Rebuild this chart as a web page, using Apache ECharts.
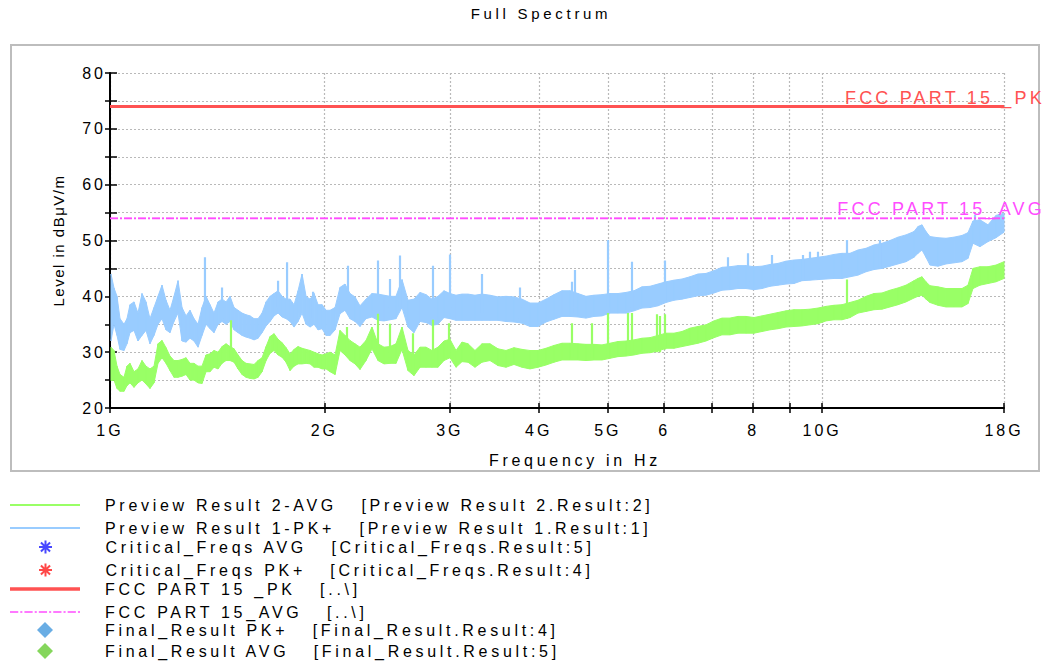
<!DOCTYPE html>
<html>
<head>
<meta charset="utf-8">
<script src="https://cdn.jsdelivr.net/npm/echarts@6/dist/echarts.min.js"></script>
<style>
  html, body { margin: 0; padding: 0; background: #ffffff; }
  #chart { width: 1046px; height: 663px; }
  /* wide report-style tracking; each text role uses its own family list */
  #chart text { letter-spacing: 3.7px; white-space: pre; }
  #chart text[style*="Helvetica"] { letter-spacing: 3px; }
  #chart text[style*="Arial"] { letter-spacing: 1.5px; }
  #chart text[style*="Arimo"] { letter-spacing: 3.2px; }
</style>
</head>
<body>
<div id="chart"></div>
<script>
// ---- measurement sweep, frequency in GHz ----
const freqGHz = [
  1.0032, 1.0130, 1.0229, 1.0329, 1.0463, 1.0565, 1.0668, 1.0807, 1.0947, 1.1090,
  1.1234, 1.1380, 1.1529, 1.1679, 1.1831, 1.1985, 1.2141, 1.2299, 1.2460, 1.2622,
  1.2786, 1.2953, 1.3121, 1.3292, 1.3465, 1.3641, 1.3818, 1.3998, 1.4181, 1.4365,
  1.4553, 1.4742, 1.4934, 1.5129, 1.5326, 1.5525, 1.5727, 1.5932, 1.6140, 1.6350,
  1.6563, 1.6778, 1.6997, 1.7218, 1.7442, 1.7669, 1.7899, 1.8132, 1.8368, 1.8607,
  1.8850, 1.9095, 1.9343, 1.9595, 1.9850, 2.0109, 2.0370, 2.0702,
  2.1037, 2.1378, 2.1725, 2.2080, 2.2440, 2.2880, 2.3327, 2.3785, 2.4252, 2.4726,
  2.5210, 2.5704, 2.6207, 2.6721, 2.7246, 2.7778, 2.8322, 2.8876, 2.9442, 3.0019,
  3.0609, 3.1206, 3.1818, 3.2546, 3.3292, 3.4161, 3.5058, 3.5976, 3.6919, 3.7888,
  3.8878, 3.9898, 4.0944, 4.2015,
  4.3120, 4.4247, 4.5406, 4.6595, 4.7817, 4.9071, 5.0356, 5.1675, 5.3029, 5.4423,
  5.5844, 5.7309, 5.8810, 6.0350, 6.1931, 6.3555, 6.5220, 6.6929, 6.8682, 7.0483,
  7.2329, 7.4223, 7.6169, 7.8165, 8.0212, 8.2314, 8.4472, 8.6681, 8.8955, 9.1285,
  9.3678, 9.6128, 9.8650, 10.124, 10.389, 10.661, 10.940, 11.227, 11.521, 11.823,
  12.134, 12.451, 12.777, 13.111, 13.455, 13.631, 13.807, 13.987, 14.169, 14.541,
  14.921, 15.314, 15.714, 16.022, 16.283, 16.656, 17.092, 17.540, 18.0
];

// Preview Result 1 (PK+): upper and lower edge of the trace, dBµV/m
const pkHigh = [
  44, 41.5, 40, 36, 35, 36, 38.5, 39, 37, 40.5,
  39, 36, 38, 40, 42, 39.3, 37.5, 40, 42.8, 38,
  36.5, 37.5, 36, 35, 38, 40, 38.5, 37, 39, 39.5,
  39, 40, 38, 37.5, 37, 36.7, 36.5, 36, 36, 37,
  39, 40, 40.5, 41, 40, 39.5, 39.5, 38.5, 41, 44,
  40, 39.5, 40.5, 38.5, 38.5, 37.5, 37.5, 38,
  41.6, 42.2, 40.5, 39.9, 38.3, 39.5, 40.5, 40.4, 40.2, 40,
  40, 43, 39.3, 39.5, 40.7, 40.3, 39.5, 40, 41, 40.5,
  40.2, 40.4, 40.4, 40.2, 40.4, 40.2, 39.9, 40, 39.9, 39.5,
  38.8, 38.8, 39.5, 40.3,
  41, 41, 40.5, 40, 40.2, 40.3, 40.5, 40.5, 40.7, 41,
  41.7, 41.8, 42.2, 42.6, 42.9, 43.1, 43.5, 44, 44.1, 44.6,
  45.2, 45.3, 45.5, 45.5, 45.3, 45.4, 45.7, 45.9, 46.3, 46.5,
  46.6, 46.8, 47, 47.2, 47.5, 47.7, 47.7, 48.3, 48.6, 49.2,
  49.5, 50, 50.6, 51, 51.6, 52.5, 52.8, 51.6, 50.7, 50.5,
  50.4, 50.6, 50.9, 51.4, 53.5, 53.7, 52.8, 54.5, 54.9
];
const pkLow = [
  32, 35, 33, 30.5, 30.3, 31.5, 33.5, 33.9, 32, 33,
  33.9, 31.5, 33, 35, 36, 34, 33.5, 35.5, 37, 32,
  31.8, 32.5, 32, 30.9, 33, 35, 34.2, 33.5, 35, 35.5,
  35, 35.5, 34, 33.5, 33, 32.7, 32.5, 32.2, 32.5, 33.5,
  34.7, 35.5, 36.5, 37, 36.3, 36, 35.5, 34.5, 35.5, 37,
  35, 34.5, 35, 34, 34.2, 33, 33, 34,
  36.9, 37.5, 36, 35.5, 34.6, 36, 36.3, 35.7, 35.6, 35.8,
  36, 38, 34.5, 33.5, 35.5, 35.3, 34.8, 35, 36.2, 36,
  35.7, 35.7, 35.7, 35.7, 35.7, 35.7, 35.7, 35.5, 35.4, 35.2,
  34.6, 34.6, 35.4, 35.9,
  36.4, 36.4, 36.3, 36.1, 36.4, 36.5, 37, 37, 37, 37.4,
  37.9, 38, 38.3, 38.9, 39.3, 39.5, 39.8, 40.1, 40.2, 40.6,
  41.1, 41.2, 41.4, 41.4, 41.2, 41.4, 41.8, 42, 42.2, 42.3,
  42.8, 42.9, 43, 43.1, 43.2, 43.2, 43.5, 43.8, 44.4, 44.8,
  45, 45.4, 45.8, 46.2, 47, 47.7, 48.3, 47, 45.6, 45.4,
  45.8, 46, 46.2, 46.8, 49.5, 48.9, 49.8, 50.5, 51.5
];

// Preview Result 2 (AVG): upper and lower edge of the trace, dBµV/m
const avgHigh = [
  30.9, 30.3, 27.5, 26, 25.5, 27.5, 28, 26.5, 27, 28.5,
  27.5, 27, 27.5, 31.5, 32.1, 30.8, 29.3, 28.5, 28.5, 28.7,
  29, 28, 28, 27.5, 27.5, 29.5, 29.7, 30.3, 30, 31,
  31.5, 31, 30.6, 29.5, 28.5, 28, 27.9, 27.8, 28.5, 29,
  31, 32.8, 33.3, 32.3, 31.7, 30.8, 29.7, 30.5, 31, 30.7,
  30.5, 30.3, 30, 29.7, 29.5, 29.7, 30, 29.5,
  33.9, 33, 32.1, 31.5, 30.9, 32.1, 34.5, 31.5, 30.9, 31,
  31.5, 34.5, 30.3, 29.5, 30.9, 30.9, 30.3, 30.9, 32, 32.3,
  30.3, 31.8, 31.5, 30.3, 31.5, 31.5, 30.6, 30.3, 30.8, 30.5,
  30.3, 30.3, 30.7, 31.2,
  31.6, 31.6, 31.5, 31.4, 31.4, 31.3, 31.6, 31.9, 32, 32.2,
  32.5, 32.6, 33, 33.4, 33.4, 33.7, 34.3, 34.6, 34.9, 35.6,
  36.1, 36.1, 36.4, 36.4, 36.2, 36.5, 36.8, 37.1, 37.4, 37.6,
  37.6, 37.7, 37.9, 38.2, 38.4, 38.5, 38.9, 39.3, 40, 40.5,
  40.6, 41.1, 41.5, 42, 42.8, 43.2, 43.5, 42.6, 41.9, 41.7,
  41.4, 41.4, 41.4, 42, 45, 45.3, 45.3, 45.6, 46.2
];
const avgLow = [
  24.9, 25, 23.5, 23, 23, 24, 24.5, 23.7, 24.5, 25,
  24.3, 23.5, 24.5, 28, 29, 28, 26.7, 25.5, 25.5, 25.7,
  26, 25, 25, 24.5, 24.4, 26.5, 26.5, 27.3, 27, 28,
  28.5, 28.5, 28.2, 27, 26, 25.5, 25.3, 25.2, 25.5, 26.5,
  28.5, 29.8, 30.3, 29.5, 29.1, 28.2, 26.7, 27.5, 27.9, 27.9,
  28, 27.9, 27.3, 27.3, 27, 27, 26.5, 26,
  30.3, 29.5, 28.5, 27.9, 26.9, 28.5, 30.6, 28.5, 27.9, 28,
  28, 30.5, 26.7, 25.8, 27.3, 27.3, 27.3, 27.3, 28.5, 29,
  27.3, 28.3, 28.2, 27.3, 28.2, 28.5, 27.6, 27.3, 27.8, 27.3,
  27, 27.3, 27.7, 28.2,
  28.6, 28.6, 28.6, 28.5, 28.6, 28.6, 28.9, 29.2, 29.3, 29.5,
  29.8, 29.9, 30.2, 30.7, 30.7, 31, 31.3, 31.6, 32, 32.6,
  33.1, 33.1, 33.4, 33.4, 33.4, 33.7, 34, 34.2, 34.5, 34.6,
  34.7, 34.9, 35.1, 35.6, 35.8, 35.8, 36.2, 37, 37.3, 37.6,
  37.7, 38.1, 38.5, 39, 39.7, 40, 40.2, 39.5, 38.9, 38.4,
  38.1, 38.1, 38.1, 38.7, 41.4, 42, 42.3, 42.6, 43.2
];

// narrow emissions standing out of each trace: frequency, foot, peak
const pkSpikeFreq = [1.3594, 1.4365, 1.7218, 1.7726, 1.9281, 2.1585, 2.3785, 2.4726, 2.5538, 2.8413,
  3.0019, 3.3292, 3.7643, 4.4533, 4.4967, 5.0031, 5.4067, 6.0155, 7.3744, 7.8672,
  8.5019, 9.3981, 9.6128, 9.8650, 10.835, 12.054, 16.389];
const pkSpikeFoot = [38, 36, 38, 37, 36, 38, 37, 37, 38, 36,
  37, 37, 36, 37, 37, 38, 38, 39, 42, 42,
  42, 43, 43, 43, 44, 45, 50];
const pkSpikePeak = [47, 41.6, 42.8, 46.1, 40.8, 45.5, 46.4, 43.1, 47.3, 45.5,
  47.5, 44, 41.6, 42.6, 44.7, 50.1, 46.2, 46.4, 47, 47.7,
  47.4, 47.4, 48, 48, 50.1, 50.1, 54.6];

const avgSpikeFreq = [1.4787, 2.1516, 2.3785, 2.4726, 2.6634, 2.8413, 2.9922, 4.4533, 4.7509, 5.0031,
  5.3375, 5.4067, 5.8618, 5.9191, 6.0155, 10.835];
const avgSpikeFoot = [29, 30, 29, 29, 27, 28, 29, 29, 29, 29,
  29.5, 29.5, 30, 30, 30.5, 36];
const avgSpikePeak = [35.7, 34.5, 36.9, 35.1, 33.4, 35.8, 35.2, 35.2, 35.2, 37,
  37, 37, 36.8, 36.5, 36.8, 43];

// limits, dBµV/m
const limitPK = 74;
const limitAVG = 54;

// axis ticks
const xTickValues = [1, 2, 3, 4, 5, 6, 7, 8, 9, 10, 18];
const xLabelValues = [1, 2, 3, 4, 5, 6, 8, 10, 18];
const xLabelText = ['1G', '2G', '3G', '4G', '5G', '6', '8', '10G', '18G'];

const legendNames = [
  'Preview Result 2-AVG   [Preview Result 2.Result:2]',
  'Preview Result 1-PK+   [Preview Result 1.Result:1]',
  'Critical_Freqs AVG   [Critical_Freqs.Result:5]',
  'Critical_Freqs PK+   [Critical_Freqs.Result:4]',
  'FCC PART 15 _PK   [..\\]',
  'FCC PART 15_AVG   [..\\]',
  'Final_Result PK+   [Final_Result.Result:4]',
  'Final_Result AVG   [Final_Result.Result:5]'
];

// ---- colours and fonts ----
const cPK = '#99ccff';
const cAVG = '#99ff66';
const cLimPK = '#ff5252';
const cLimAVG = '#ff4dff';
const FONT = 'Liberation Sans';
const FONT_TICK = 'Liberation Sans, Helvetica';
const FONT_YNAME = 'Liberation Sans, Arial';
const FONT_LIMIT = 'Liberation Sans, Arimo';

// filled band between the lower and upper edge of a trace, one quad per step
function bandSeries(name, color, hi, lo) {
  return {
    name, type: 'custom', silent: true, z: 2,
    data: freqGHz.map((f, i) => [f, lo[i], hi[i]]),
    encode: { x: 0, y: [1, 2] },
    itemStyle: { color },
    renderItem(params, api) {
      const i = params.dataIndexInside;
      if (i >= params.dataInsideLength - 1) return null;
      const pts = [
        api.coord([api.value(0, i), api.value(2, i)]),
        api.coord([api.value(0, i + 1), api.value(2, i + 1)]),
        api.coord([api.value(0, i + 1), api.value(1, i + 1)]),
        api.coord([api.value(0, i), api.value(1, i)])
      ];
      return { type: 'polygon', shape: { points: pts }, style: { fill: color, stroke: color, lineWidth: 1 } };
    }
  };
}

function spikeSeries(name, color, fr, foot, peak) {
  const data = [];
  fr.forEach((f, i) => { data.push([f, foot[i]], [f, peak[i]], [f, '-']); });
  return { name, type: 'line', data, symbol: 'none', connectNulls: false, silent: true, z: 2,
    lineStyle: { color, width: 2.2 }, itemStyle: { color } };
}

function limitSeries(name, value, color, width, dash, labelText) {
  const lineStyle = { color, width, type: dash };
  return {
    name, type: 'line', data: [[1, value], [18, value]], symbol: 'none',
    lineStyle, itemStyle: { color }, silent: true, z: 4,
    markLine: {
      silent: true, symbol: 'none', animation: false, lineStyle,
      label: {
        show: true, position: 'insideEndTop', distance: [-41, 0], opacity: 1,
        formatter: labelText, color, fontSize: 18, fontFamily: FONT_LIMIT
      },
      data: [{ yAxis: value }]
    }
  };
}

// legend glyphs
const iconTrace = 'path://M0 0H70V2H0Z';
const iconLimitPK = 'path://M0 0H70V3.5H0Z';
const iconLimitAVG = 'path://M0 0H8V1.5H0ZM10 0H12V1.5H10ZM14 0H22V1.5H14ZM24 0H26V1.5H24ZM28 0H36V1.5H28ZM38 0H40V1.5H38ZM42 0H50V1.5H42ZM52 0H54V1.5H52ZM56 0H64V1.5H56ZM66 0H68V1.5H66Z';
const iconAsterisk = 'path://M6 0L6 12M0 6L12 6M1.8 1.8L10.2 10.2M10.2 1.8L1.8 10.2';
const iconDiamond = 'path://M8 0L16 8L8 16L0 8Z';

const axisText = { color: '#000', fontSize: 16, fontFamily: FONT_TICK };
const gridDots = { show: true, lineStyle: { color: '#b9b9b9', width: 1.2, type: [2, 2] } };

function legendGroup(items, left, top, itemHeight, itemGap, extra) {
  return Object.assign({
    orient: 'vertical', left, top, padding: 0,
    itemWidth: 70, itemHeight, itemGap, selectedMode: false,
    data: items,
    textStyle: { color: '#000', fontSize: 16, fontFamily: FONT, lineHeight: 14, padding: [0, 0, 0, 20] }
  }, extra || {});
}

const chart = echarts.init(document.getElementById('chart'), null, { renderer: 'svg' });
chart.setOption({
  animation: false,
  backgroundColor: '#ffffff',
  textStyle: { fontFamily: FONT },
  title: {
    text: 'Full Spectrum', left: 541, textAlign: 'center', top: 6, padding: 0,
    textStyle: { color: '#000', fontSize: 15, fontWeight: 'normal', fontFamily: FONT }
  },
  graphic: [{
    type: 'rect', silent: true, z: -10,
    shape: { x: 11, y: 45, width: 1028, height: 426 },
    style: { fill: '#ffffff', stroke: '#bdbdbd', lineWidth: 2 }
  }],
  grid: { left: 110, right: 42, top: 73, bottom: 255, containLabel: false, outerBoundsMode: 'none' },
  legend: [
    legendGroup([
      { name: legendNames[0], icon: iconTrace },
      { name: legendNames[1], icon: iconTrace }
    ], 10, 497, 14, 7, { itemStyle: { borderWidth: 0 } }),
    legendGroup([
      { name: legendNames[2], icon: iconAsterisk },
      { name: legendNames[3], icon: iconAsterisk }
    ], 38, 539, 13, 7),
    legendGroup([
      { name: legendNames[4], icon: iconLimitPK },
      { name: legendNames[5], icon: iconLimitAVG }
    ], 10, 581, 14, 7, { itemStyle: { borderWidth: 0 } }),
    legendGroup([
      { name: legendNames[6], icon: iconDiamond },
      { name: legendNames[7], icon: iconDiamond }
    ], 37, 622, 16, 5, { itemStyle: { borderWidth: 0 } })
  ],
  xAxis: [
    {
      type: 'log', logBase: 10, min: 1, max: 18, position: 'bottom',
      axisLine: { lineStyle: { color: '#000', width: 2 } },
      axisTick: { customValues: xTickValues, length: 5, lineStyle: { color: '#000', width: 1.5 } },
      axisLabel: Object.assign({
        customValues: xLabelValues, margin: 14,
        formatter: v => { const k = xLabelValues.indexOf(Math.round(v)); return k < 0 ? '' : xLabelText[k]; }
      }, axisText),
      minorTick: { show: false },
      splitLine: gridDots,
      name: 'Frequency in Hz', nameLocation: 'middle', nameGap: 44,
      nameTextStyle: { color: '#000', fontSize: 16, fontFamily: FONT, padding: [0, 0, 0, 36] }
    },
    {
      type: 'log', logBase: 10, min: 1, max: 18, position: 'bottom',
      axisLine: { show: false },
      axisTick: { customValues: xTickValues, inside: true, length: 5, lineStyle: { color: '#000', width: 1.5 } },
      axisLabel: { show: false },
      splitLine: { show: false }
    }
  ],
  yAxis: [
    {
      type: 'value', min: 20, max: 80, interval: 5, position: 'left',
      axisLine: { show: true, lineStyle: { color: '#000', width: 2 } },
      axisTick: { show: true, length: 5, lineStyle: { color: '#000', width: 1.5 } },
      axisLabel: Object.assign({ margin: 4, formatter: v => (v % 10 === 0 ? String(v) : '') }, axisText),
      splitLine: gridDots,
      name: 'Level in dBμV/m', nameLocation: 'middle', nameGap: 44,
      nameTextStyle: { color: '#000', fontSize: 15, fontFamily: FONT_YNAME }
    },
    {
      type: 'value', min: 20, max: 80, interval: 5, position: 'left',
      axisLine: { show: false },
      axisTick: { show: true, inside: true, length: 7, lineStyle: { color: '#000', width: 1.5 } },
      axisLabel: { show: false },
      splitLine: { show: false }
    }
  ],
  series: [
    bandSeries(legendNames[1], cPK, pkHigh, pkLow),
    spikeSeries(legendNames[1], cPK, pkSpikeFreq, pkSpikeFoot, pkSpikePeak),
    bandSeries(legendNames[0], cAVG, avgHigh, avgLow),
    spikeSeries(legendNames[0], cAVG, avgSpikeFreq, avgSpikeFoot, avgSpikePeak),
    { name: legendNames[2], type: 'scatter', data: [], symbol: iconAsterisk,
      itemStyle: { color: '#1a1aff', borderColor: '#1a1aff', borderWidth: 1.5 } },
    { name: legendNames[3], type: 'scatter', data: [], symbol: iconAsterisk,
      itemStyle: { color: '#ff1a1a', borderColor: '#ff1a1a', borderWidth: 1.5 } },
    limitSeries(legendNames[4], limitPK, cLimPK, 3, 'solid', 'FCC PART 15 _PK'),
    limitSeries(legendNames[5], limitAVG, cLimAVG, 1.3, [8, 2, 2, 2], 'FCC PART 15_AVG'),
    { name: legendNames[6], type: 'scatter', data: [], symbol: iconDiamond, itemStyle: { color: '#4499dd' } },
    { name: legendNames[7], type: 'scatter', data: [], symbol: iconDiamond, itemStyle: { color: '#66cc33' } }
  ]
});
</script>
</body>
</html>
